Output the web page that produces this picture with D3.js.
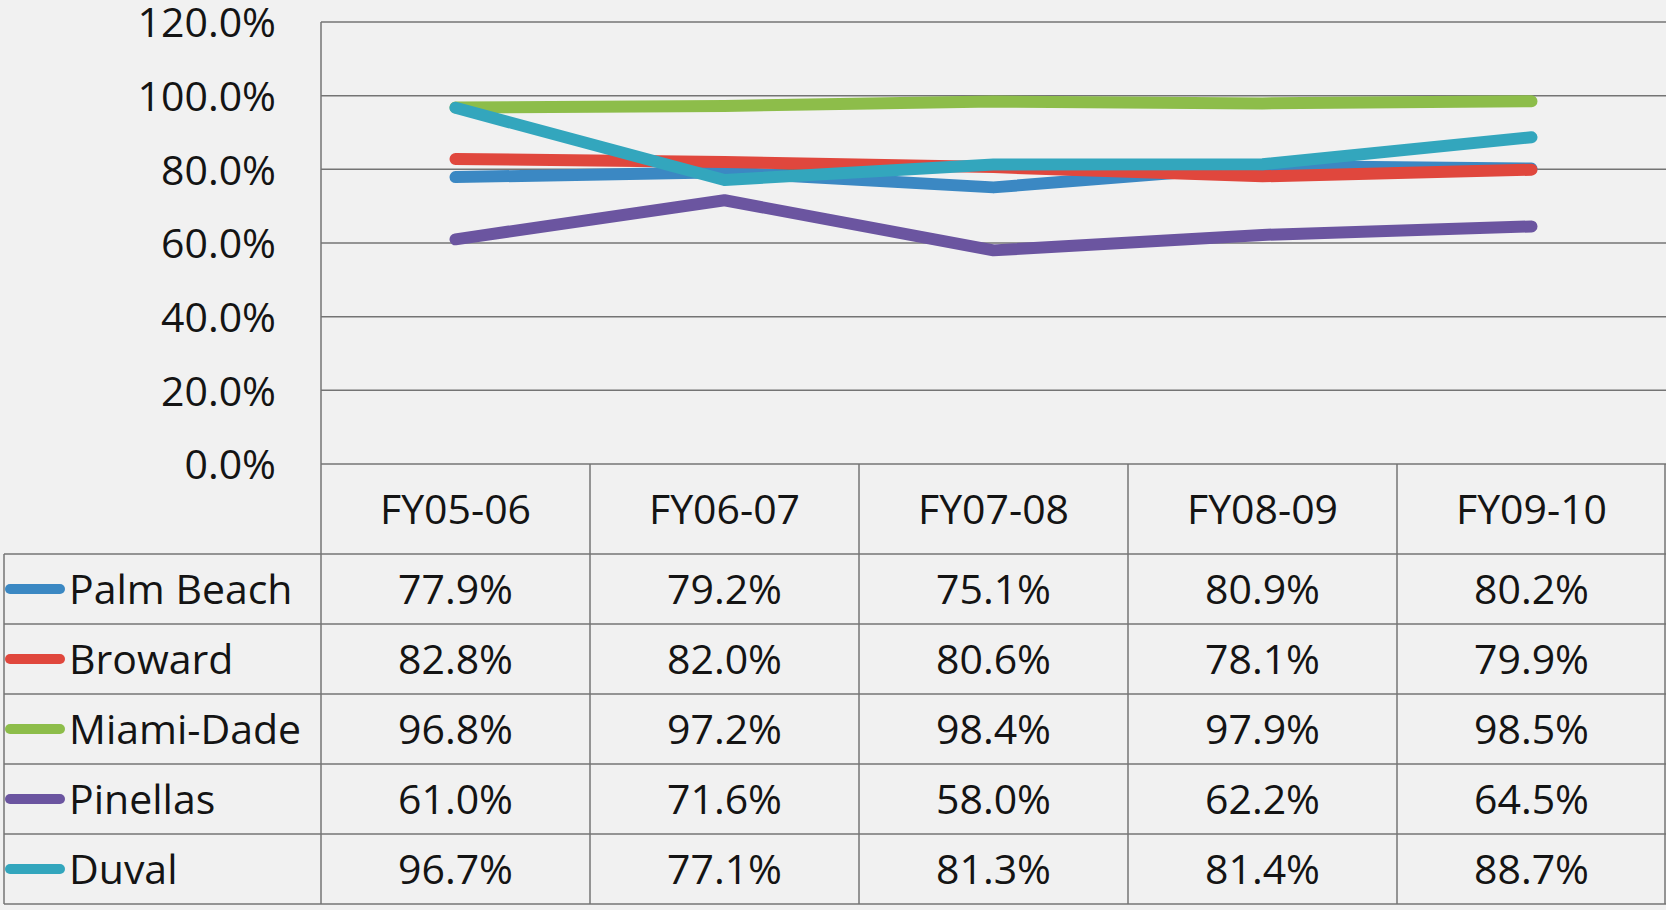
<!DOCTYPE html>
<html lang="en">
<head>
    <meta charset="UTF-8">
    <title>County rates FY05-06 to FY09-10</title>
    <script src="https://d3js.org/d3.v7.min.js"></script>
    <style>
        html, body {
            margin: 0;
            padding: 0;
            background: #f1f1f1;
        }
        body {
            font-family: "Open Sans", Arial, sans-serif;
        }
        svg text {
            fill: #141414;
        }
    </style>
</head>
<body>
    <div id="chart"></div>
    <script>
        const years = ["FY05-06", "FY06-07", "FY07-08", "FY08-09", "FY09-10"];
        const counties = ["Palm Beach", "Broward", "Miami-Dade", "Pinellas", "Duval"];
        const palmBeach = [0.779, 0.792, 0.751, 0.809, 0.802];
        const broward = [0.828, 0.820, 0.806, 0.781, 0.799];
        const miamiDade = [0.968, 0.972, 0.984, 0.979, 0.985];
        const pinellas = [0.610, 0.716, 0.580, 0.622, 0.645];
        const duval = [0.967, 0.771, 0.813, 0.814, 0.887];
        const yTicks = [0, 0.2, 0.4, 0.6, 0.8, 1.0, 1.2];
        const colors = ["#3b88c3", "#e0473d", "#8dbd4a", "#6b55a0", "#33a6bd"];

        const seriesValues = [palmBeach, broward, miamiDade, pinellas, duval];
        const series = counties.map((name, i) => ({ name, values: seriesValues[i], color: colors[i] }));

        const width = 1666, height = 910;
        const plotLeft = 321, plotRight = 1666;
        const plotTop = 22, plotBottom = 464;
        const tableLeft = 4;
        const headerH = 90, rowH = 70;
        const gridColor = "#747474";

        const svg = d3.select("#chart")
            .append("svg")
            .attr("width", width)
            .attr("height", height);

        const x = d3.scaleBand()
            .domain(years)
            .range([plotLeft, plotRight]);

        const y = d3.scaleLinear()
            .domain([0, 1.2])
            .range([plotBottom, plotTop]);

        const row = d3.scaleBand()
            .domain(counties)
            .range([plotBottom + headerH, plotBottom + headerH + rowH * counties.length]);

        // gridlines
        svg.append("g")
            .selectAll("line")
            .data(yTicks)
            .enter()
            .append("line")
            .attr("x1", plotLeft)
            .attr("x2", plotRight)
            .attr("y1", d => y(d))
            .attr("y2", d => y(d))
            .attr("stroke", gridColor)
            .attr("stroke-width", 1.5);

        // y axis labels
        const yAxis = svg.append("g")
            .attr("transform", `translate(${plotLeft},0)`)
            .call(d3.axisLeft(y).tickValues(yTicks).tickFormat(d3.format(".1%")).tickSize(0).tickPadding(45));
        yAxis.select(".domain").remove();
        yAxis.selectAll("text")
            .attr("font-family", "'Open Sans', Arial, sans-serif")
            .attr("font-size", 41)
            .attr("dy", "0.36em")
            .style("fill", "#141414");

        // table grid
        const tableBottom = row.range()[1];
        const grid = svg.append("g")
            .attr("stroke", gridColor)
            .attr("stroke-width", 1.5)
            .attr("fill", "none");

        // vertical lines: plot left edge down through the table, and column separators
        grid.append("line")
            .attr("x1", plotLeft).attr("x2", plotLeft)
            .attr("y1", plotTop).attr("y2", tableBottom);
        grid.selectAll(".col-line")
            .data(years.slice(1))
            .enter()
            .append("line")
            .attr("x1", d => x(d)).attr("x2", d => x(d))
            .attr("y1", plotBottom).attr("y2", tableBottom);
        grid.append("line")
            .attr("x1", plotRight - 1).attr("x2", plotRight - 1)
            .attr("y1", plotBottom).attr("y2", tableBottom);
        grid.append("line")
            .attr("x1", tableLeft).attr("x2", tableLeft)
            .attr("y1", row.range()[0]).attr("y2", tableBottom);

        // horizontal row lines
        const rowEdges = counties.map(c => row(c)).concat([tableBottom]);
        grid.selectAll(".row-line")
            .data(rowEdges)
            .enter()
            .append("line")
            .attr("x1", tableLeft).attr("x2", plotRight)
            .attr("y1", d => d).attr("y2", d => d);

        // header labels
        svg.append("g")
            .selectAll("text")
            .data(years)
            .enter()
            .append("text")
            .attr("x", d => x(d) + x.bandwidth() / 2)
            .attr("y", plotBottom + headerH / 2)
            .attr("dy", "0.36em")
            .attr("text-anchor", "middle")
            .attr("font-size", 41)
            .text(d => d);

        // table rows
        const rows = svg.append("g")
            .selectAll("g")
            .data(series)
            .enter()
            .append("g")
            .attr("transform", d => `translate(0,${row(d.name) + row.bandwidth() / 2})`);

        rows.append("line")
            .attr("x1", 10)
            .attr("x2", 60)
            .attr("stroke", d => d.color)
            .attr("stroke-width", 10)
            .attr("stroke-linecap", "round");

        rows.append("text")
            .attr("x", 69)
            .attr("dy", "0.36em")
            .attr("font-size", 41)
            .text(d => d.name);

        rows.selectAll(".val")
            .data(d => d.values)
            .enter()
            .append("text")
            .attr("x", (v, i) => x(years[i]) + x.bandwidth() / 2)
            .attr("dy", "0.36em")
            .attr("text-anchor", "middle")
            .attr("font-size", 41)
            .text(v => d3.format(".1%")(v));

        // lines
        const line = d3.line()
            .x((v, i) => x(years[i]) + x.bandwidth() / 2)
            .y(v => y(v));

        svg.append("g")
            .selectAll("path")
            .data(series)
            .enter()
            .append("path")
            .attr("d", d => line(d.values))
            .attr("fill", "none")
            .attr("stroke", d => d.color)
            .attr("stroke-width", 12)
            .attr("stroke-linecap", "round")
            .attr("stroke-linejoin", "round");
    </script>
</body>
</html>
